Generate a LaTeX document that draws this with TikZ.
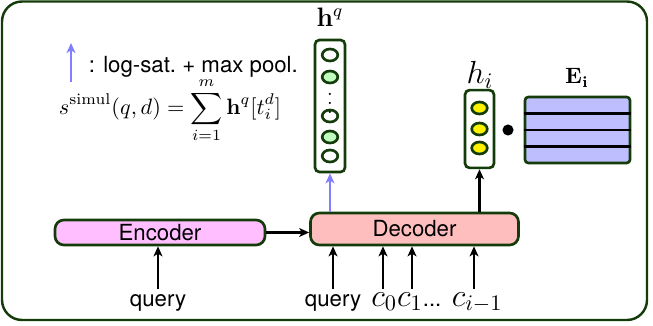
\documentclass[tikz,border=0pt]{standalone}
\usepackage[no-math]{fontspec}
\usepackage{amsmath}
\newfontfamily\labelfont{TeX Gyre Heros}
\usetikzlibrary{arrows.meta,calc}

\definecolor{borderg}{RGB}{20,60,10}
\definecolor{encfill}{RGB}{255,190,255}
\definecolor{decfill}{RGB}{255,190,190}
\definecolor{embfill}{RGB}{190,190,255}
\definecolor{greenfill}{RGB}{190,255,190}
\definecolor{arrblue}{RGB}{128,128,255}

\tikzset{
	frame/.style={draw=borderg, line width=1.1pt, rounded corners=9pt},
	netbox/.style={draw=borderg, line width=1.2pt, rounded corners=4pt, inner sep=0pt, font=\labelfont},
	vecbox/.style={draw=borderg, line width=1.2pt, rounded corners=2pt, fill=white, inner sep=0pt},
	unit/.style={draw=borderg, line width=1.2pt},
	txt/.style={font=\labelfont, inner sep=2pt},
	blackarr/.style={line width=1.2pt, -{Stealth[length=4.5pt,width=4pt,inset=1.2pt]}},
	bluearr/.style={line width=1.2pt, draw=arrblue, -{Stealth[length=4.5pt,width=4pt,inset=1.2pt]}, arrblue},
}

\begin{document}
\begin{tikzpicture}[x=0.45pt,y=-0.45pt]
	%%%%% FRAME %%%%%
	\useasboundingbox (0,0) rectangle (653,326);
	\draw[frame] (2,1.5) rectangle (647,320);

	%%%%% ENCODER / DECODER %%%%%
	\node[netbox, fill=encfill, minimum width=94.5pt, minimum height=11.25pt] (enc) at (160,232.5) {Encoder};
	\node[netbox, fill=decfill, minimum width=93.6pt, minimum height=14.4pt] (dec) at (414.5,229) {Decoder};
	\draw[blackarr] (enc.east) -- (enc.east -| dec.west);

	%%%%% INPUTS %%%%%
	\node[txt, anchor=base] (qenc) at (158,306) {query};
	\node[txt, anchor=base] (qdec) at (333,306) {query};
	\node[anchor=base west, font=\Large, inner sep=0pt] (ctxt) at (371,306) {$c_0c_1${\normalsize\labelfont...}\ $c_{i-1}$};
	\draw[blackarr] (qenc.north) -- (qenc.north |- enc.south);
	\draw[blackarr] (qdec.north) -- (qdec.north |- dec.south);
	\coordinate (c0) at (383,289);
	\coordinate (c1) at (412,289);
	\coordinate (ci) at (474,289);
	\foreach \c in {c0,c1,ci}
		\draw[blackarr] (\c) -- (\c |- dec.south);

	%%%%% QUERY VECTOR %%%%%
	\node[vecbox, minimum width=13.5pt, minimum height=59.4pt] (hq) at (330,106) {};
	\node[font=\large] (hqlbl) at (330,17) {$\mathbf{h}^q$};
	\foreach \y/\f in {55/white,77/greenfill,116/white,137/greenfill,156/white}
		\draw[unit, fill=\f] (330,\y) ellipse [x radius=3.5pt, y radius=2.7pt];
	\node[font=\small, inner sep=0pt] (hqdots) at (330,97) {$\vdots$};
	\draw[bluearr] (dec.north -| hq.south) -- (hq.south);

	%%%%% HIDDEN STATE AND EMBEDDINGS %%%%%
	\node[vecbox, minimum width=13pt, minimum height=35pt] (hi) at (479.5,129) {};
	\node[font=\Large] (hilbl) at (480,75) {$h_i$};
	\foreach \y in {108,129,148}
		\draw[unit, fill=yellow] (479.5,\y) ellipse [x radius=3.5pt, y radius=2.7pt];
	\draw[blackarr] (dec.north -| hi.south) -- (hi.south);
	\node[circle, fill=black, inner sep=0pt, minimum size=5pt] (dot) at (508,130) {};
	\node[vecbox, fill=embfill, rounded corners=1.5pt, minimum width=47.25pt, minimum height=29.7pt] (emb) at (577.5,130) {};
	\foreach \y in {113.5,130,146.5}
		\draw[line width=1.2pt] (emb.west |- 0,\y) -- (emb.east |- 0,\y);
	\node (emblbl) at (577,78) {$\mathbf{E_i}$};

	%%%%% LEGEND %%%%%
	\coordinate (legtail) at (71,82);
	\coordinate (leghead) at (71,43);
	\draw[bluearr] (legtail) -- (leghead);
	\node[txt, anchor=west] (legtxt) at (84,67) {: log-sat.\ + max pool.};
	\node (score) at (170,110) {$\displaystyle s^{\mathrm{simul}}(q,d)=\sum_{i=1}^{m}\mathbf{h}^q[t_i^d]$};
\end{tikzpicture}
\end{document}
